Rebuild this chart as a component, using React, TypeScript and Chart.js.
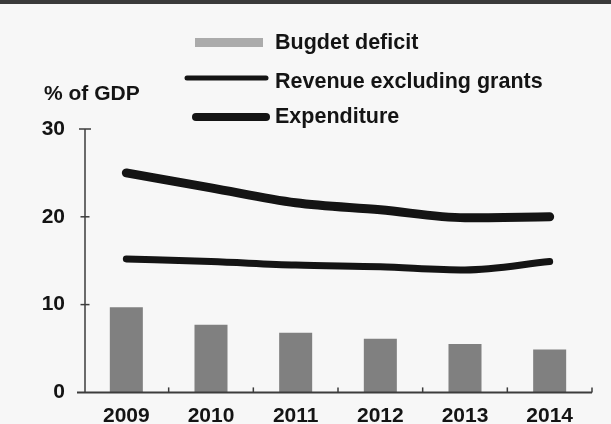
import React, { useEffect, useRef } from "react";
import { Chart, registerables } from "chart.js";

Chart.register(...registerables);

const years = ["2009", "2010", "2011", "2012", "2013", "2014"];
const budgetDeficit = [9.7, 7.7, 6.8, 6.1, 5.5, 4.9];
const revenueExclGrants = [15.2, 14.9, 14.5, 14.3, 13.95, 14.9];
const expenditure = [25.0, 23.3, 21.6, 20.8, 19.9, 20.0];
const yTicks = [0, 10, 20, 30];
const yAxisTitle = "% of GDP";
const seriesLabels = ["Bugdet deficit", "Revenue excluding grants", "Expenditure"];

const FONT = "'Liberation Sans', Arial, Helvetica, sans-serif";
const INK = "#141414";

const decorPlugin = {
  id: "decor",
  beforeDraw(chart: any) {
    const ctx = chart.ctx;
    ctx.save();
    ctx.fillStyle = "#f7f7f7";
    ctx.fillRect(0, 0, chart.width, chart.height);
    ctx.fillStyle = "#3a3a3a";
    ctx.fillRect(0, 0, chart.width, 4);
    ctx.restore();
  },
  afterDraw(chart: any) {
    const ctx = chart.ctx;
    const area = chart.chartArea;
    const xs = chart.scales.x;
    const ys = chart.scales.y;
    ctx.save();
    // axes
    ctx.strokeStyle = "#3c3c3c";
    ctx.lineWidth = 1.5;
    const axisX = area.left + 1;
    ctx.beginPath();
    ctx.moveTo(axisX, ys.getPixelForValue(30));
    ctx.lineTo(axisX, area.bottom);
    ctx.stroke();
    yTicks.forEach((t) => {
      const py = ys.getPixelForValue(t);
      if (t === 0) return;
      ctx.beginPath();
      const half = t === 30 ? 6 : 4.5;
      ctx.moveTo(axisX - half, py);
      ctx.lineTo(axisX + half, py);
      ctx.stroke();
    });
    ctx.lineWidth = 2;
    ctx.beginPath();
    ctx.moveTo(area.left - 7, area.bottom);
    ctx.lineTo(area.right, area.bottom);
    ctx.stroke();
    ctx.lineWidth = 1.5;
    for (let i = 0; i < years.length; i++) {
      const bx =
        i < years.length - 1
          ? (xs.getPixelForValue(i) + xs.getPixelForValue(i + 1)) / 2
          : area.right;
      ctx.beginPath();
      ctx.moveTo(bx, area.bottom);
      ctx.lineTo(bx, area.bottom - 5);
      ctx.stroke();
    }

    // y-axis title
    ctx.fillStyle = INK;
    ctx.font = `bold 21px ${FONT}`;
    ctx.textBaseline = "alphabetic";
    ctx.textAlign = "left";
    ctx.fillText(yAxisTitle, 44, 100);

    // legend
    const ds = chart.data.datasets;
    ctx.fillStyle = "#ababab";
    ctx.fillRect(195, 38, 68, 9);
    ctx.strokeStyle = INK;
    ctx.lineCap = "round";
    ctx.lineWidth = 5;
    ctx.beginPath();
    ctx.moveTo(187, 78);
    ctx.lineTo(266, 78);
    ctx.stroke();
    ctx.lineWidth = 8;
    ctx.beginPath();
    ctx.moveTo(196, 117);
    ctx.lineTo(266, 117);
    ctx.stroke();
    ctx.fillStyle = INK;
    ctx.font = `bold 21.5px ${FONT}`;
    ctx.fillText(ds[0].label, 275, 49);
    ctx.fillText(ds[1].label, 275, 88);
    ctx.fillText(ds[2].label, 275, 123);
    ctx.restore();
  },
};

export default function App() {
  const ref = useRef<HTMLCanvasElement | null>(null);
  useEffect(() => {
    if (!ref.current) return;
    const chart = new Chart(ref.current, {
      type: "bar",
      data: {
        labels: years,
        datasets: [
          {
            type: "bar",
            label: seriesLabels[0],
            data: budgetDeficit,
            backgroundColor: "#808080",
            borderWidth: 0,
            categoryPercentage: 1,
            barPercentage: 0.39,
            order: 2,
          },
          {
            type: "line",
            label: seriesLabels[1],
            data: revenueExclGrants,
            borderColor: INK,
            borderWidth: 7,
            borderCapStyle: "round",
            borderJoinStyle: "round",
            pointRadius: 0,
            tension: 0.35,
            cubicInterpolationMode: "monotone",
            fill: false,
            order: 1,
          },
          {
            type: "line",
            label: seriesLabels[2],
            data: expenditure,
            borderColor: INK,
            borderWidth: 9,
            borderCapStyle: "round",
            borderJoinStyle: "round",
            pointRadius: 0,
            tension: 0.35,
            cubicInterpolationMode: "monotone",
            fill: false,
            order: 0,
          },
        ] as any,
      },
      options: {
        animation: false,
        responsive: false,
        maintainAspectRatio: false,
        layout: { padding: { top: 129, right: 19, left: 0, bottom: 0 } },
        plugins: {
          legend: { display: false },
          title: { display: false },
          tooltip: { enabled: false },
        },
        scales: {
          x: {
            grid: { display: false, drawTicks: false },
            border: { display: false },
            ticks: {
              color: INK,
              font: { family: FONT, size: 21, weight: "bold" },
              padding: 11,
              maxRotation: 0,
              autoSkip: false,
            },
            afterFit: (s: any) => {
              s.height = 31;
            },
          },
          y: {
            min: 0,
            max: 30,
            afterBuildTicks: (s: any) => {
              s.ticks = yTicks.map((v) => ({ value: v }));
            },
            grid: { display: false, drawTicks: false },
            border: { display: false },
            ticks: {
              color: INK,
              font: { family: FONT, size: 21, weight: "bold" },
              padding: 19,
            },
            afterFit: (s: any) => {
              s.width = 84;
            },
          },
        },
      },
      plugins: [decorPlugin],
    } as any);
    return () => chart.destroy();
  }, []);
  return (
    <div style={{ position: "absolute", left: 0, top: 0, width: 611, height: 424 }}>
      <canvas ref={ref} width={611} height={424} style={{ width: 611, height: 424, display: "block" }} />
    </div>
  );
}
